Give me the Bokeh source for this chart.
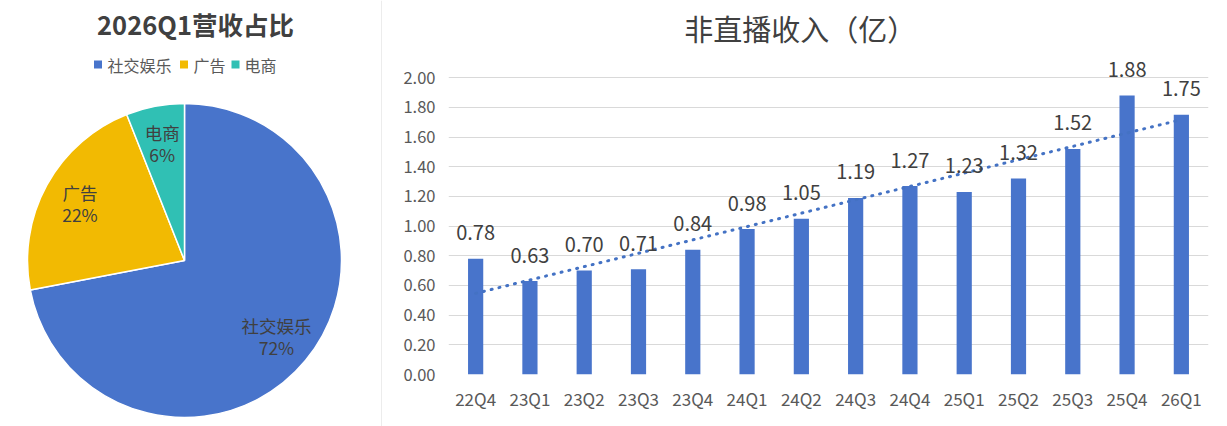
import math
import numpy as np
from bokeh.plotting import figure
from bokeh.layouts import row, column
from bokeh.models import Range1d, FixedTicker, NumeralTickFormatter, ColumnDataSource
from bokeh.core.properties import value
from bokeh.embed import file_html
from bokeh.resources import INLINE

# ---- revenue mix, 2026Q1 ----
segments = ["社交娱乐", "广告", "电商"]
shares = [72, 22, 6]
seg_colors = ["#4874CB", "#F2BA02", "#30C0B4"]

# ---- non-live-streaming revenue (亿) ----
quarters = ["22Q4", "23Q1", "23Q2", "23Q3", "23Q4", "24Q1", "24Q2",
            "24Q3", "24Q4", "25Q1", "25Q2", "25Q3", "25Q4", "26Q1"]
revenue = [0.78, 0.63, 0.70, 0.71, 0.84, 0.98, 1.05,
           1.19, 1.27, 1.23, 1.32, 1.52, 1.88, 1.75]
y_ticks = [0.0, 0.2, 0.4, 0.6, 0.8, 1.0, 1.2, 1.4, 1.6, 1.8, 2.0]

CJK = value("Noto Sans CJK SC")
DARK = "#404040"
GREY = "#595959"
H = 426

# ================= pie panel =================
LW = 382
p1 = figure(width=LW, height=H, x_range=Range1d(0, LW), y_range=Range1d(0, H),
            x_axis_type=None, y_axis_type=None, toolbar_location=None,
            output_backend="svg", min_border=0, outline_line_color=None)
p1.background_fill_color = "white"
p1.border_fill_color = "white"

cx, cy, R = 184, H - 260, 157
total = float(sum(shares))
starts, ends, mids = [], [], []
acc = 0.0
for s in shares:
    a0 = math.pi / 2 - 2 * math.pi * acc / total
    acc += s
    a1 = math.pi / 2 - 2 * math.pi * acc / total
    starts.append(a0)
    ends.append(a1)
    mids.append((a0 + a1) / 2)

pie_src = ColumnDataSource(dict(start=starts, end=ends, color=seg_colors))
p1.wedge(x=cx, y=cy, radius=R, start_angle="start", end_angle="end",
         direction="clock", fill_color="color", line_color="white",
         line_width=1.5, source=pie_src)

# slice labels along each slice's mid angle
lab_r = 0.76 * R
lx = [cx + lab_r * math.cos(m) for m in mids]
ly = [cy + lab_r * math.sin(m) for m in mids]
p1.text(x=lx, y=[y + 11 for y in ly], text=segments, text_font=CJK,
        text_font_size="17.5px", text_color=DARK, text_align="center",
        text_baseline="middle")
p1.text(x=lx, y=[y - 11 for y in ly], text=[f"{s}%" for s in shares],
        text_font=CJK, text_font_size="17.5px", text_color=DARK,
        text_align="center", text_baseline="middle")

# title
p1.text(x=[195], y=[H - 23], text=["2026Q1营收占比"], text_font=CJK,
        text_font_size="25.5px", text_font_style="bold", text_color=DARK,
        text_align="center", text_baseline="middle")

# legend row
leg_sq_x = [97.5, 183.5, 235]
leg_txt_x = [107, 193, 244]
p1.rect(x=leg_sq_x, y=[H - 64] * 3, width=8, height=8,
        fill_color=seg_colors, line_color=None)
p1.text(x=leg_txt_x, y=[H - 64] * 3, text=segments, text_font=CJK,
        text_font_size="16px", text_color=GREY, text_align="left",
        text_baseline="middle")

# panel divider
p1.segment(x0=[381.5], y0=[0], x1=[381.5], y1=[H], line_color="#D9D9D9",
           line_width=1)

# ================= bar panel =================
RW = 1227 - LW
p2 = figure(width=RW, height=H, x_range=Range1d(-0.5, len(quarters) - 0.5),
            y_range=Range1d(0, 2.5), toolbar_location=None,
            output_backend="svg", min_border_left=66, min_border_right=19,
            min_border_top=3, min_border_bottom=52, outline_line_color=None)
p2.background_fill_color = "white"
p2.border_fill_color = "white"

idx = list(range(len(quarters)))

p2.xaxis.ticker = FixedTicker(ticks=idx)
p2.xaxis.major_label_overrides = {i: q for i, q in zip(idx, quarters)}
p2.yaxis.ticker = FixedTicker(ticks=y_ticks)
p2.yaxis.formatter = NumeralTickFormatter(format="0.00")
for ax in (p2.xaxis[0], p2.yaxis[0]):
    ax.axis_line_color = None
    ax.major_tick_line_color = None
    ax.minor_tick_line_color = None
    ax.major_tick_out = 0
    ax.major_tick_in = 0
    ax.major_label_text_font = "Noto Sans CJK SC"
    ax.major_label_text_color = GREY
p2.xaxis.major_label_text_font_size = "17px"
p2.xaxis.major_label_standoff = 11
p2.yaxis.major_label_text_font_size = "16.5px"
p2.yaxis.major_label_standoff = 13

p2.xgrid.visible = False
p2.ygrid.grid_line_color = "#D9D9D9"
p2.ygrid.grid_line_width = 1

p2.vbar(x=idx, top=revenue, width=0.28, fill_color="#4874CB", line_color=None)

# linear trend through the quarterly series
slope, icpt = np.polyfit(idx, revenue, 1)
p2.line(x=[idx[0], idx[-1]], y=[icpt + slope * idx[0], icpt + slope * idx[-1]],
        line_color="#4472C4", line_width=3, line_dash="1 7", line_cap="round")

# value labels above each bar
lab_y = [v + 0.175 for v in revenue]
p2.text(x=idx, y=lab_y, text=[f"{v:.2f}" for v in revenue], text_font=CJK,
        text_font_size="20px", text_color=DARK, text_align="center",
        text_baseline="middle")

# chart title
p2.text(x=[5.98], y=[2.337], text=["非直播收入（亿）"], text_font=CJK,
        text_font_size="29px", text_color=DARK, text_align="center",
        text_baseline="middle")

# keep each panel's frame independent of its neighbour
for fig in (p1, p2):
    if hasattr(fig, "frame_align"):
        fig.frame_align = False

layout = row(column(p1), column(p2))
open("out.html", "w").write(file_html(layout, INLINE))
